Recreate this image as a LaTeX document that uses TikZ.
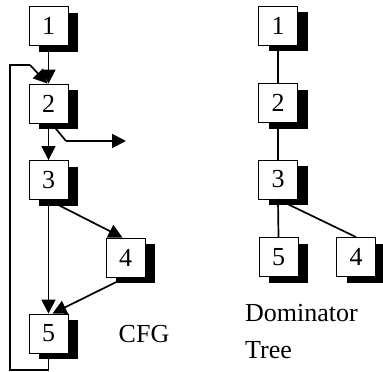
\documentclass[tikz,border=0pt]{standalone}
\usepackage{fontspec}
\setmainfont{Liberation Serif}
\usetikzlibrary{shadows,arrows.meta,calc}
\begin{document}
\begin{tikzpicture}[x=1pt,y=-1pt,
  blk/.style={draw, line width=0.9pt, fill=white, minimum width=39pt, minimum height=39pt,
    inner sep=0pt, font=\fontsize{26}{26}\selectfont,
    drop shadow={shadow xshift=10pt, shadow yshift=-6pt, fill=black, opacity=1}},
  edge/.style={line width=1.7pt},
  arr/.style={edge, -{Triangle[length=14pt,width=14pt]}},
  lbl/.style={font=\fontsize{26}{37}\selectfont, align=left, inner sep=0pt}]
\path[use as bounding box] (0,0) rectangle (383,372);
% CFG
\node[blk] (c1) at (48.5,26) {1};
\node[blk] (c2) at (48.5,103.5) {2};
\node[blk] (c3) at (48.5,180) {3};
\node[blk] (c4) at (125.5,257.5) {4};
\node[blk] (c5) at (48.5,333.5) {5};
\coordinate (lb) at (48.5,370);
\coordinate (ll) at (10,370);
\coordinate (lt) at (10,65);
\coordinate (lk) at (30,65);
\coordinate (xs) at (52,124);
\coordinate (xk) at (66,141);
\coordinate (xe) at (126,141);
\draw[arr] (c1.south) -- (c2.north);
\draw[arr] (c2.south) -- (c3.north);
\draw[arr] (c3.south) -- ($(c4.north)+(-3,0)$);
\draw[arr] (c3.south) -- (c5.north);
\draw[arr] (c4.south) -- ($(c5.north)+(4,0)$);
\draw[edge] (xs) -- (xk);
\draw[arr] (xk) -- (xe);
\draw[edge] (c5.south) -- (lb) -- (ll) -- (lt) -- (lk);
\draw[arr] (lk) -- ($(c2.north)+(-1,0)$);
\node[lbl] (cfg) at (144,334) {CFG};
% Dominator tree
\node[blk] (d1) at (278,25.5) {1};
\node[blk] (d2) at (278,103) {2};
\node[blk] (d3) at (278,179.5) {3};
\node[blk] (d5) at (278.5,257) {5};
\node[blk] (d4) at (356,257) {4};
\draw[edge] (d1.south) -- (d2.north);
\draw[edge] (d2.south) -- (d3.north);
\draw[edge] (d3.south) -- (d5.north);
\draw[edge] (d3.south) -- (d4.north);
\node[lbl, anchor=north west] (dt) at (245,304) {Dominator\\Tree};
\end{tikzpicture}
\end{document}
